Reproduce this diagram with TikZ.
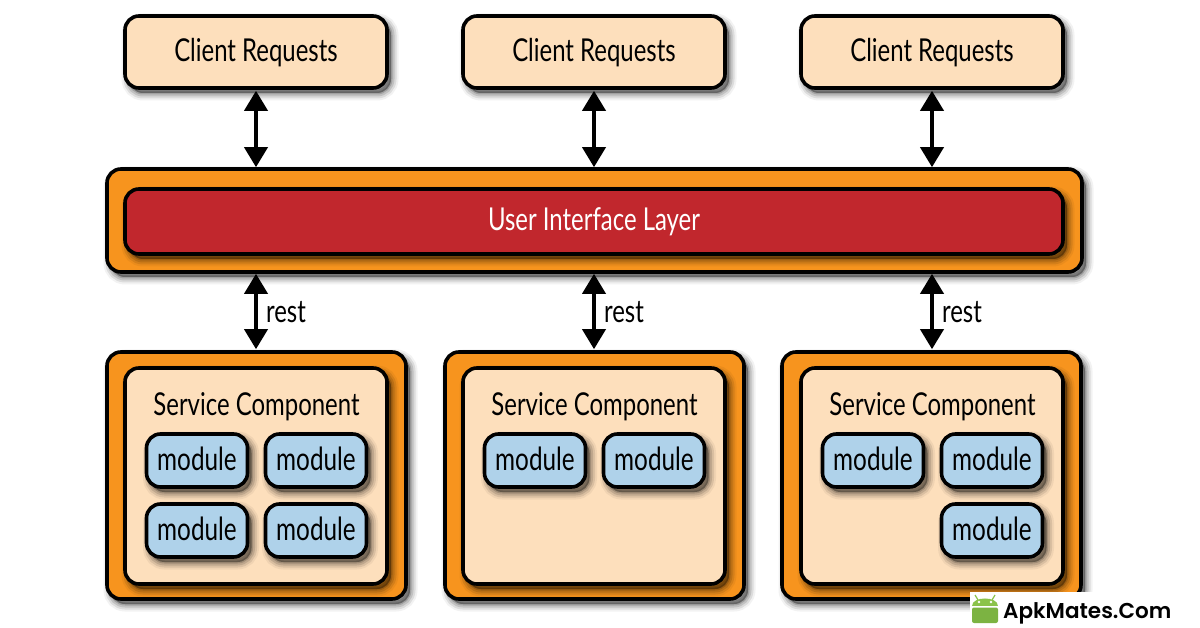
\documentclass[tikz,border=0pt]{standalone}
\usepackage{fontspec}
\setmainfont[FakeStretch=0.76]{Lato}
\newfontfamily\apkfont{Poppins SemiBold}
\usetikzlibrary{arrows.meta}
\definecolor{creambox}{HTML}{FDDFBC}
\definecolor{orangebox}{HTML}{F7941E}
\definecolor{redbox}{HTML}{C1272D}
\definecolor{bluebox}{HTML}{AFD2EA}
\definecolor{apkgreen}{HTML}{8BC34A}
\definecolor{apkdark}{HTML}{7CB342}
\tikzset{
	softshadow/.style={
		preaction={draw=black,fill=black,opacity=.05,line width=15pt,transform canvas={shift={(4pt,-5pt)}}},
		preaction={draw=black,fill=black,opacity=.09,line width=11pt,transform canvas={shift={(4pt,-5pt)}}},
		preaction={draw=black,fill=black,opacity=.12,line width=7pt,transform canvas={shift={(4pt,-5pt)}}},
		preaction={draw=black,fill=black,opacity=.16,line width=3pt,transform canvas={shift={(4pt,-5pt)}}}},
	plainbox/.style={draw=black,line width=3.6pt,rounded corners=14pt,inner sep=0pt,softshadow},
	clientbox/.style={plainbox,fill=creambox,minimum width=262pt,minimum height=72pt,text height=22pt,text depth=2pt,font=\fontsize{31.5}{31.5}\selectfont},
	outerbox/.style={plainbox,fill=orangebox},
	innerbox/.style={plainbox,fill=creambox,minimum width=262pt,minimum height=216pt},
	modulebox/.style={plainbox,fill=bluebox,minimum width=101pt,minimum height=53pt,text height=21pt,text depth=2pt,font=\fontsize{32}{32}\selectfont},
	titletext/.style={inner sep=0pt,font=\fontsize{31.5}{31.5}\selectfont},
	biarrow/.style={line width=3.8pt,{Triangle[width=23pt,length=20pt]}-{Triangle[width=23pt,length=20pt]},shorten <=1pt,shorten >=0pt}
}
\begin{document}
\begin{tikzpicture}[x=1pt,y=-1pt]
	\useasboundingbox[fill=white] (0,0) rectangle (1200,628);
	% top row
	\node[clientbox] (client1) at (256,52) {Client Requests};
	\node[clientbox] (client2) at (594,52) {Client Requests};
	\node[clientbox] (client3) at (932,52) {Client Requests};
	% user interface layer
	\node[outerbox,minimum width=975pt,minimum height=103pt] (uiouter) at (594.5,220.5) {};
	\node[plainbox,fill=redbox,text=white,minimum width=938pt,minimum height=65pt,text height=21pt,text depth=2pt,font=\fontsize{31.5}{31.5}\selectfont] (uiinner) at (594,221.5) {User Interface Layer};
	% services
	\node[outerbox,minimum width=299pt,minimum height=247pt] (service1) at (256.5,475.5) {};
	\node[outerbox,minimum width=299pt,minimum height=247pt] (service2) at (594.5,475.5) {};
	\node[outerbox,minimum width=299pt,minimum height=247pt] (service3) at (931.5,475.5) {};
	\node[innerbox] (inner1) at (256,476) {};
	\node[innerbox] (inner2) at (594,476) {};
	\node[innerbox] (inner3) at (932,476) {};
	\node[titletext] (title1) at (256.5,407) {Service Component};
	\node[titletext] (title2) at (594.5,407) {Service Component};
	\node[titletext] (title3) at (932.5,407) {Service Component};
	\node[modulebox] (mod1a) at (197,460.5) {module};
	\node[modulebox] (mod1b) at (316,460.5) {module};
	\node[modulebox] (mod1c) at (197,530.5) {module};
	\node[modulebox] (mod1d) at (316,530.5) {module};
	\node[modulebox] (mod2a) at (535,460.5) {module};
	\node[modulebox] (mod2b) at (654,460.5) {module};
	\node[modulebox] (mod3a) at (873,460.5) {module};
	\node[modulebox] (mod3b) at (992,460.5) {module};
	\node[modulebox] (mod3c) at (992,530.5) {module};
	% arrows
	\draw[biarrow] (client1.south) -- (client1.south |- uiouter.north);
	\draw[biarrow] (client2.south) -- (client2.south |- uiouter.north);
	\draw[biarrow] (client3.south) -- (client3.south |- uiouter.north);
	\draw[biarrow] (service1.north -| client1) -- (client1 |- uiouter.south);
	\draw[biarrow] (service2.north -| client2) -- (client2 |- uiouter.south);
	\draw[biarrow] (service3.north -| client3) -- (client3 |- uiouter.south);
	\node[titletext] (rest1) at (286,312) {rest};
	\node[titletext] (rest2) at (624,312) {rest};
	\node[titletext] (rest3) at (962,312) {rest};
	% watermark
	\fill[white] (970,592) rectangle (1200,628);
	\fill[apkgreen] (972,606) .. controls (972,596) and (998,596) .. (998,606) -- cycle;
	\fill[apkdark,rounded corners=2pt] (972,607.5) -- (998,607.5) -- (998,623) -- (972,623) -- cycle;
	\draw[apkgreen,line width=1.2pt] (978,600) -- (975,595) (992,600) -- (995,595);
	\fill[white] (979,602) circle (1.3) (991,602) circle (1.3);
	\node[anchor=west,inner sep=0pt,font=\apkfont\fontsize{21.5}{21.5}\selectfont] (apkmates) at (1003,613) {ApkMates.Com};
\end{tikzpicture}
\end{document}
